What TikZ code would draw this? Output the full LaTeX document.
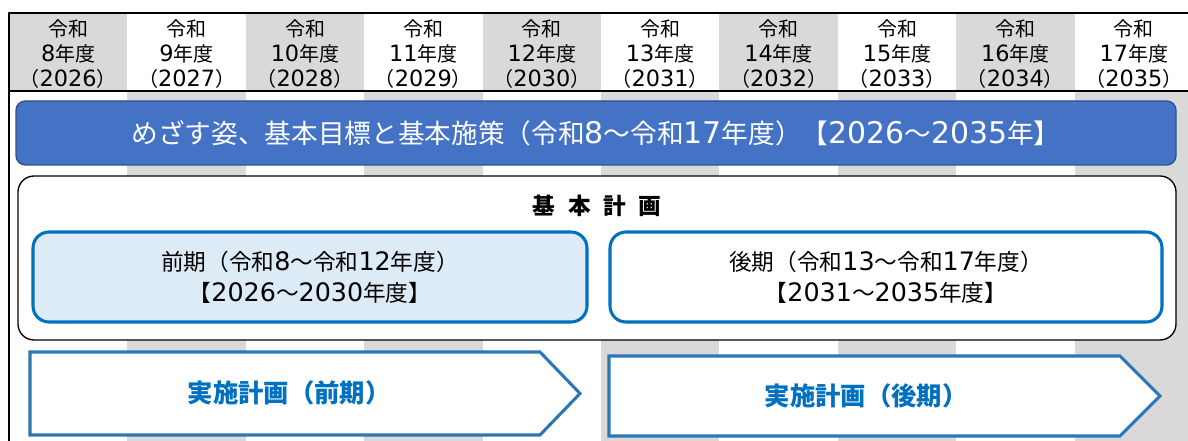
\documentclass[tikz,border=0pt]{standalone}
\usepackage{fontspec}
\setmainfont{Noto Sans CJK JP}
\newfontfamily\digitfont{DejaVu Sans}[Scale=1.12]
\newcommand\dg[1]{{\digitfont #1}}
\definecolor{bandgray}{HTML}{D9D9D9}
\definecolor{barfill}{HTML}{4472C4}
\definecolor{barline}{HTML}{2F528F}
\definecolor{planblue}{HTML}{0070C0}
\definecolor{termfill}{HTML}{DDEBF7}
\definecolor{arrowline}{HTML}{2E75B6}

\begin{document}
\begin{tikzpicture}[x=0.75pt,y=-0.75pt,line join=round,
  yearlbl/.style={align=center,inner sep=0pt,font=\fontsize{15}{18.75}\selectfont},
  termbox/.style={draw=planblue,line width=2.3pt,rounded corners=12pt},
  termlbl/.style={align=center,inner sep=0pt,font=\fontsize{17}{23.5}\selectfont},
  implarrow/.style={draw=arrowline,line width=2.3pt,fill=white,line join=miter},
  impllbl/.style={inner sep=0pt,text=planblue,font=\fontsize{19}{21}\selectfont\bfseries}]
\useasboundingbox (0,0) rectangle (1188,441);
% ================ 年度の帯 ================
\foreach \i in {0,2,...,8}{\fill[bandgray] ({9+118.4*\i},13) rectangle ++(118.4,78);}
\foreach \i in {1,3,...,9}{\fill[bandgray] ({9+118.4*\i},91) rectangle ++(118.4,350);}
\foreach \n [count=\i from 0] in {8,...,17}{
  \pgfmathtruncatemacro\yr{2018+\n}
  \node[yearlbl] (hdr-\i) at ({9+118.4*\i+59.2},54) {令和\\\dg{\n}年度\\（\dg{\yr}）};
}
\draw[line width=1.2pt] (1188,13) -- (9,13) -- (9,441);
\draw[line width=1.2pt] (9,91) -- (1188,91);
% ================ めざす姿 ================
\draw[fill=barfill,draw=barline,line width=1pt,rounded corners=7pt]
  (16,101) rectangle (1176,165);
\node[inner sep=0pt,text=white,font=\fontsize{20}{24}\selectfont] (vision) at (596,133)
  {めざす姿、基本目標と基本施策（令和\dg{8}～令和\dg{17}年度）【\dg{2026}～\dg{2035}年】};
% ================ 基本計画 ================
\draw[fill=white,line width=1pt,rounded corners=12pt] (18,176) rectangle (1176,340);
\node[inner sep=0pt,font=\fontsize{17}{20}\selectfont\bfseries] (plan) at (597,206)
  {基\hspace{0.55em}本\hspace{0.55em}計\hspace{0.55em}画};
\draw[termbox,fill=termfill] (33,232) rectangle (587,322);
\node[termlbl] (early) at (310,277)
  {前期（令和\dg{8}～令和\dg{12}年度）\\【\dg{2026}～\dg{2030}年度】};
\draw[termbox,fill=white] (610,232) rectangle (1162,322);
\node[termlbl] (late) at (886,277)
  {後期（令和\dg{13}～令和\dg{17}年度）\\【\dg{2031}～\dg{2035}年度】};
% ================ 実施計画 ================
\draw[implarrow] (30,352) -- (540,352) -- (580,393.5) -- (540,435) -- (30,435) -- cycle;
\node[impllbl] (impl-early) at (289,393) {実施計画（前期）};
\draw[implarrow] (609,356) -- (1120,356) -- (1160,396) -- (1120,436) -- (609,436) -- cycle;
\node[impllbl] (impl-late) at (866,396) {実施計画（後期）};
\end{tikzpicture}
\end{document}
